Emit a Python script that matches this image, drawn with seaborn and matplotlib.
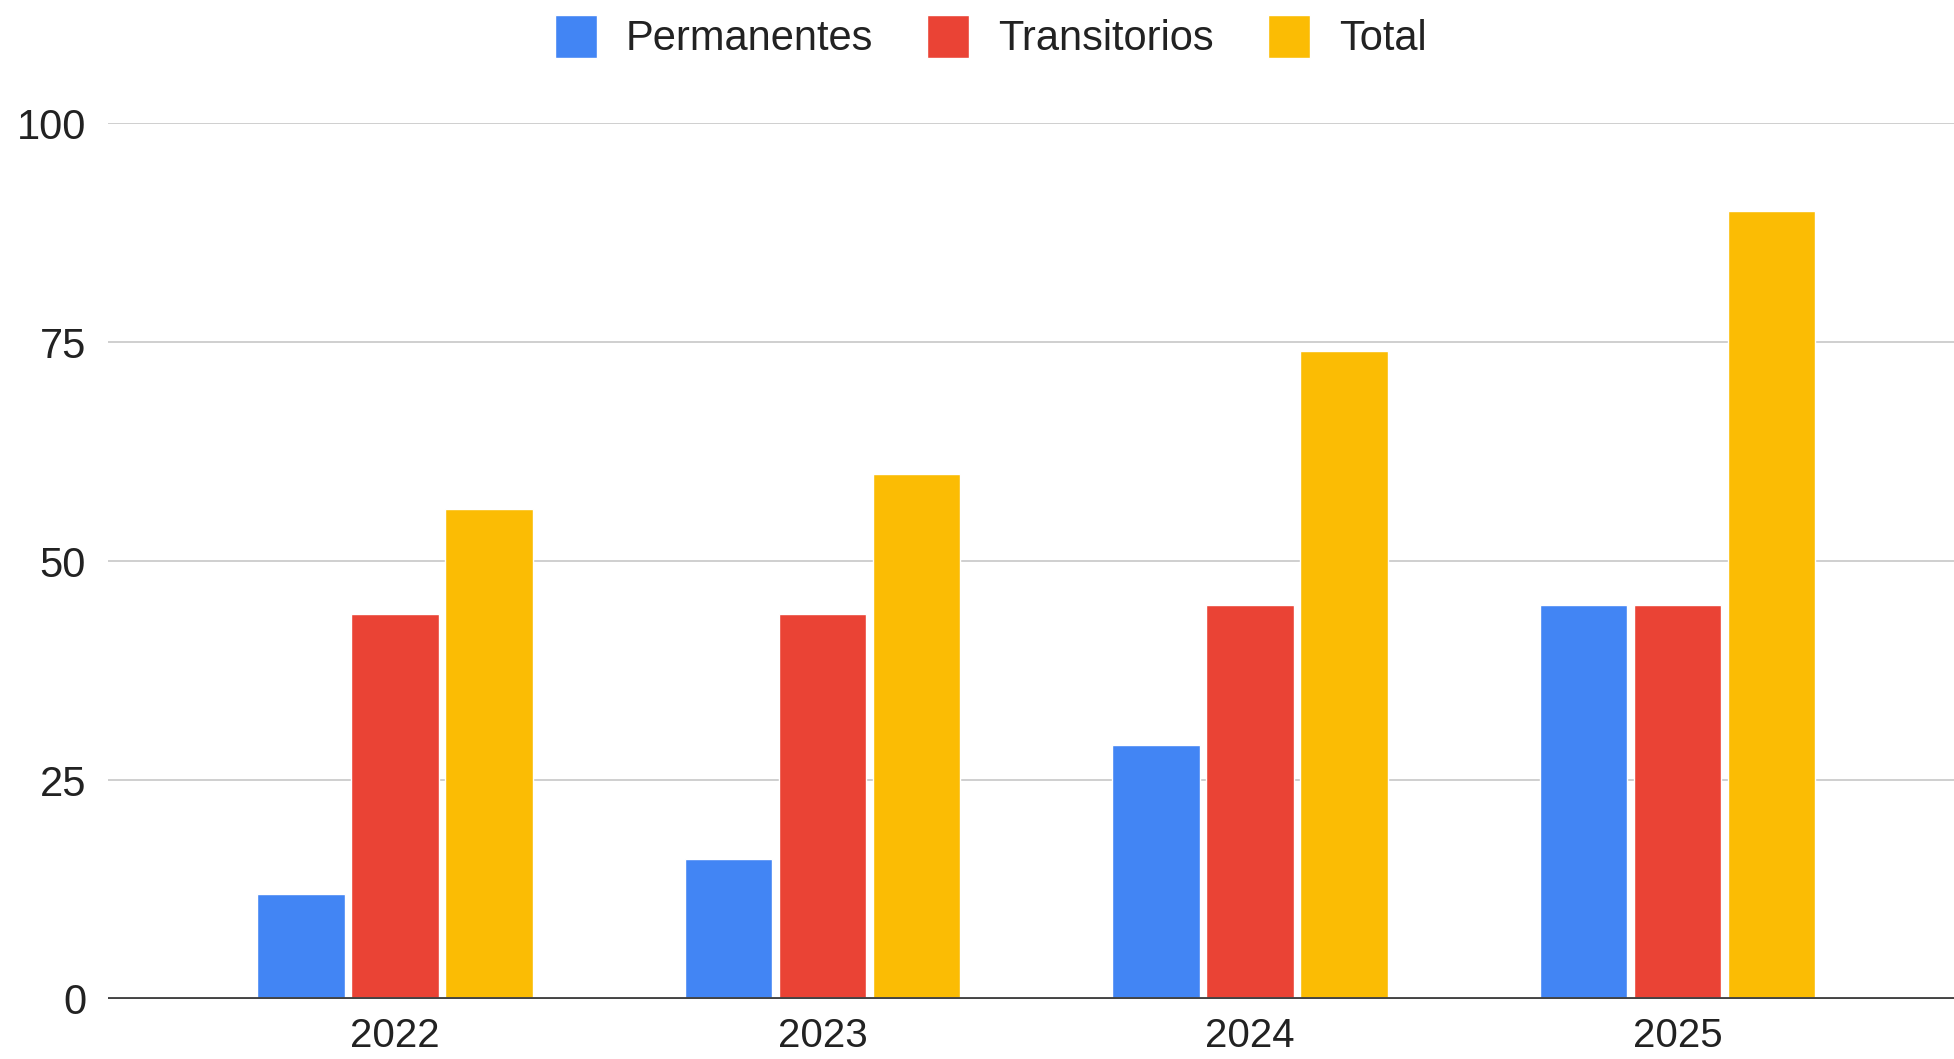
import matplotlib
matplotlib.use("Agg")
import matplotlib.pyplot as plt
import seaborn as sns
import pandas as pd

years = ["2022", "2023", "2024", "2025"]
series = ["Permanentes", "Transitorios", "Total"]
permanentes = [12, 16, 29, 45]
transitorios = [44, 44, 45, 45]
total = [56, 60, 74, 90]
y_ticks = [0, 25, 50, 75, 100]
colors = ["#4285F4", "#EA4335", "#FBBC04"]

df = pd.DataFrame({
    "year": years * 3,
    "serie": [series[0]] * 4 + [series[1]] * 4 + [series[2]] * 4,
    "value": permanentes + transitorios + total,
})

sns.set_style("white")
plt.rcParams["font.family"] = ["Liberation Sans", "DejaVu Sans"]

fig = plt.figure(figsize=(19.54, 10.59), dpi=100)
ax = fig.add_axes([0.0554, 0.0567, 1 - 0.0554, 0.8835 - 0.0567])

sns.barplot(data=df, x="year", y="value", hue="serie", order=years,
            hue_order=series, palette=colors, width=0.66, gap=0.07,
            saturation=1, ax=ax, legend=True, zorder=2)

ax.set_xlim(-0.671, 3.647)
ax.set_ylim(0, 100)
ax.set_yticks(y_ticks)
ax.set_yticklabels([str(t) for t in y_ticks])
ax.set_xlabel("")
ax.set_ylabel("")
ax.grid(axis="y", color="#cccccc", linewidth=1.3, zorder=0)
ax.grid(axis="x", visible=False)
ax.set_axisbelow(True)
for s in ax.spines.values():
    s.set_visible(False)
ax.axhline(0, color="#444444", linewidth=2.8, zorder=5)
ax.tick_params(axis="y", length=0, pad=16, labelsize=30, labelcolor="#222222")
ax.tick_params(axis="x", length=0, pad=13, labelsize=29, labelcolor="#222222")

handles, labels = ax.get_legend_handles_labels()
ax.get_legend().remove()
fig.legend(handles, labels, loc="center", bbox_to_anchor=(0.507, 0.965),
           ncol=3, frameon=False, fontsize=30, handlelength=1.0,
           handleheight=1.2, handletextpad=0.7, columnspacing=1.3,
           labelcolor="#222222")

fig.savefig("out.png", dpi=100, facecolor="white")
